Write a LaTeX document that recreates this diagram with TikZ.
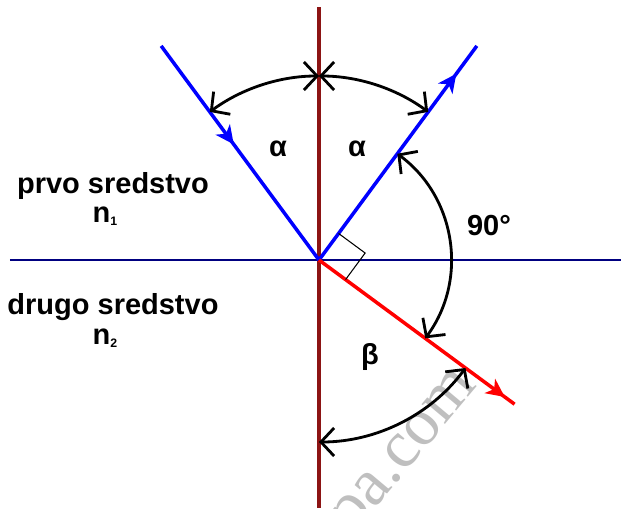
\documentclass[tikz,border=0pt]{standalone}
\usepackage{fontspec}
\setmainfont{Liberation Sans}
\newfontfamily\wmfont{Liberation Serif}
\usetikzlibrary{arrows.meta,decorations.markings}
\definecolor{normala}{RGB}{140,20,20}
\definecolor{granica}{RGB}{0,0,128}
\newcommand{\indeks}[1]{\raisebox{-2pt}{\fontsize{7}{8}\selectfont #1}}
\tikzset{
  zrak/.style={line width=2pt},
  strelica/.style={postaction={decorate},decoration={markings,
      mark=at position #1 with {\arrow{Stealth[length=10.5pt,width=10pt,inset=3pt]}}}},
  luk/.style={line width=1.6pt,{Straight Barb[length=7.5pt,width=16pt]}-{Straight Barb[length=7.5pt,width=16pt]}},
  oznaka/.style={font=\bfseries\fontsize{16.5}{19}\selectfont}
}
\begin{document}
\begin{tikzpicture}[x=0.02cm,y=0.02cm]
        \useasboundingbox (-319,-248) rectangle (302,260);
        \coordinate (O) at (0,0);
        \coordinate (A) at (126.4:266);
        \coordinate (B) at (53.6:266);
        \coordinate (C) at (-36.4:243);

        % Vodeni zig
        \node[text=black!25, font=\wmfont\fontsize{38}{40}\selectfont, rotate=50, anchor=base east] (wm) at (163,-121) {pa.com};

        % Granica sredstava i normala
        \draw[granica, line width=0.6pt] (-309,0) -- (302,0);
        \draw[normala, line width=1.9pt] (0,253) -- (0,-248);

        % Upadni, odbijeni i prelomljeni zrak
        \draw[zrak, blue, strelica=0.46] (A) -- (O);
        \draw[zrak, blue, strelica=0.87] (O) -- (B);
        \draw[zrak, red, strelica=0.95] (O) -- (C);

        % Pravi ugao
        \draw[line width=0.6pt] (53.6:33) -- ++(-36.4:33) -- (-36.4:33);

        % Uglovi
        \draw[luk] (90:184) arc[start angle=90, end angle=126.4, radius=184];
        \draw[luk] (90:184) arc[start angle=90, end angle=53.6, radius=184];
        \draw[luk] (53.6:132) arc[start angle=53.6, end angle=-36.4, radius=132];
        \draw[luk] (270:182) arc[start angle=270, end angle=323.6, radius=182];

        \node[oznaka] (alfa1) at (-41,111) {α};
        \node[oznaka] (alfa2) at (38,111) {α};
        \node[oznaka] (prav) at (170,34) {90°};
        \node[oznaka] (beta) at (51,-97) {β};

        % Sredstva
        \node[oznaka] (prvo) at (-206,74) {prvo sredstvo};
        \node[oznaka] (n1) at (-214,44) {n\indeks{1}};
        \node[oznaka] (drugo) at (-206,-47) {drugo sredstvo};
        \node[oznaka] (n2) at (-214,-78) {n\indeks{2}};
    \end{tikzpicture}
\end{document}
